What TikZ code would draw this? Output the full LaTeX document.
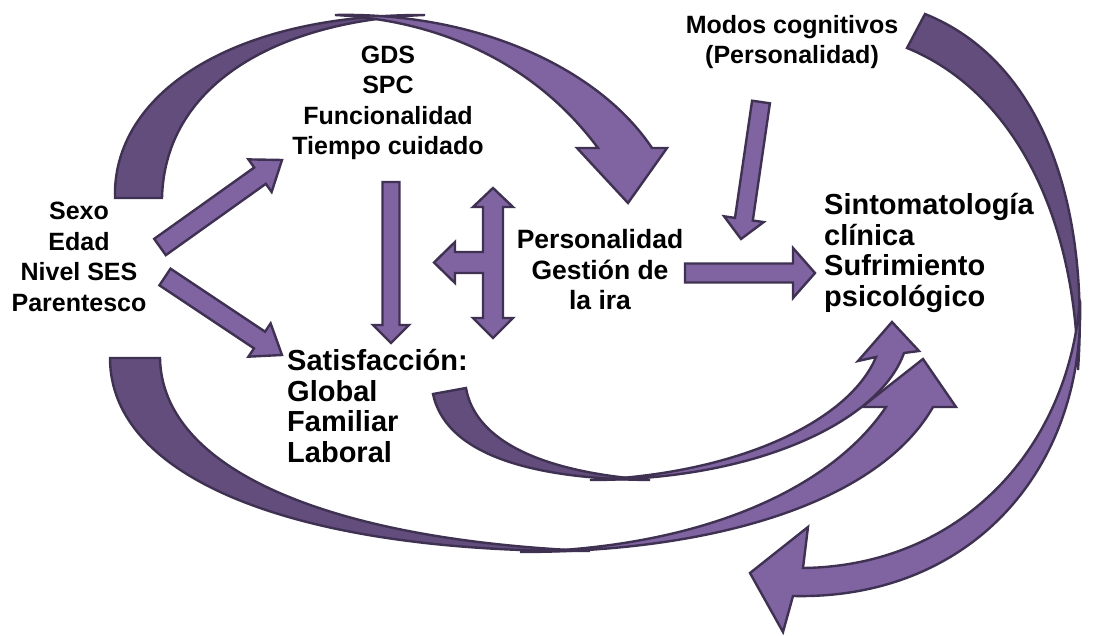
\documentclass[tikz,border=0pt]{standalone}
\usepackage{fontspec}
\setmainfont{Liberation Sans}
\usetikzlibrary{calc}

\definecolor{morado}{RGB}{128,100,162}
\definecolor{moradoosc}{RGB}{98,77,125}
\definecolor{borde}{RGB}{63,49,81}

% flecha de bloque recta: desde, hasta, medio cuerpo, media punta, largo punta
\newcommand{\flecha}[5]{%
  \coordinate (hb) at ($(#2)!#5!(#1)$);
  \draw[bloque] ($(#1)!#3!90:(#2)$) -- ($(hb)!#3!-90:(#1)$) -- ($(hb)!#4!-90:(#1)$) -- (#2)
    -- ($(hb)!#4!90:(#1)$) -- ($(hb)!#3!90:(#1)$) -- ($(#1)!#3!-90:(#2)$) -- cycle;
}

\begin{document}
\begin{tikzpicture}[x=1pt, y=-1pt,
    texto/.style={font=\fontsize{25}{30.5}\selectfont\bfseries, inner sep=0pt, align=center},
    grande/.style={texto, font=\fontsize{29}{30.5}\selectfont\bfseries, align=left, anchor=west},
    bloque/.style={draw=borde, fill=morado, line width=2.4pt, line join=miter},
    cinta/.style={draw=borde, fill=moradoosc, line width=2.4pt, line join=miter},
    cintaclara/.style={cinta, fill=morado},
  ]
  \useasboundingbox (0,0) rectangle (1096,636);

  % cinta de arriba
  \draw[cinta] (115,198) .. controls (112,95) and (230,14) .. (425,15)
    .. controls (285,20) and (165,80) .. (162,198) -- cycle;
  \draw[cintaclara] (335,15) .. controls (480,12) and (600,70) .. (652,148)
    -- (667,148) -- (628,203) -- (577,148) -- (598,148)
    .. controls (540,70) and (450,21) .. (335,15) -- cycle;

  % cinta de abajo
  \draw[cinta] (110,358) -- (160,358) .. controls (162,470) and (330,540) .. (590,551)
    .. controls (300,553) and (110,480) .. (110,358) -- cycle;
  \draw[cintaclara] (520,552) .. controls (720,552) and (880,500) .. (933,407)
    -- (956,407) -- (923,359) -- (862,407) -- (886,407)
    .. controls (830,490) and (700,548) .. (520,552) -- cycle;

  % cinta pequena
  \draw[cinta] (433,394) -- (466,388) .. controls (475,440) and (540,472) .. (650,480)
    .. controls (520,479) and (445,450) .. (433,394) -- cycle;
  \draw[cintaclara] (590,480) .. controls (760,480) and (880,420) .. (904,353)
    -- (919,351) -- (892,322) -- (858,361) -- (876,357)
    .. controls (850,420) and (740,474) .. (590,480) -- cycle;

  % cinta de la derecha
  \draw[cinta] (907,48) -- (925,14) .. controls (1040,60) and (1090,200) .. (1078,370)
    .. controls (1075,210) and (1010,90) .. (907,48) -- cycle;
  \draw[cintaclara] (1080,300) .. controls (1085,470) and (970,600) .. (793,596)
    -- (783,632) -- (750,573) -- (808,527) -- (803,568)
    .. controls (960,566) and (1068,450) .. (1080,300) -- cycle;

  % textos
  \node[texto] (src) at (79,257) {Sexo\\Edad\\Nivel SES\\Parentesco};
  \node[texto] (gds) at (388,103) {GDS\\SPC\\Funcionalidad\\Tiempo cuidado};
  \node[texto] (modos) at (792,42) {Modos cognitivos\\(Personalidad)};
  \node[texto, font=\fontsize{26.5}{30.5}\selectfont\bfseries] (pers) at (600,270) {Personalidad\\Gestión de\\la ira};
  \node[grande] (sint) at (824,253) {Sintomatología\\clínica\\Sufrimiento\\psicológico};
  \node[grande] (sat) at (287,406) {Satisfacción:\\Global\\Familiar\\Laboral};

  % flechas rectas
  \coordinate (a1) at (160,247);  \coordinate (a2) at (282,160);
  \coordinate (b1) at (165,277);  \coordinate (b2) at (282,355);
  \coordinate (c1) at (391,182);  \coordinate (c2) at (391,343);
  \coordinate (e1) at (685,273);  \coordinate (e2) at (815,273);
  \coordinate (f1) at (761,102);  \coordinate (f2) at (741,239);
  \flecha{a1}{a2}{10pt}{20pt}{27pt}
  \flecha{b1}{b2}{10pt}{20pt}{27pt}
  \flecha{c1}{c2}{8.5pt}{18pt}{18pt}
  \flecha{e1}{e2}{9.5pt}{25pt}{22pt}
  \flecha{f1}{f2}{9pt}{20pt}{20pt}

  % flecha doble con brazo
  \coordinate (d) at (493,262.5);
  \draw[bloque] (493,188) -- (513,207) -- (503,207) -- (503,318) -- (513,318) -- (493,338)
    -- (473,318) -- (483,318) -- (483,273) -- (455,273) -- (455,283) -- (434,262.5)
    -- (455,242) -- (455,252) -- (483,252) -- (483,207) -- (473,207) -- cycle;
\end{tikzpicture}
\end{document}
